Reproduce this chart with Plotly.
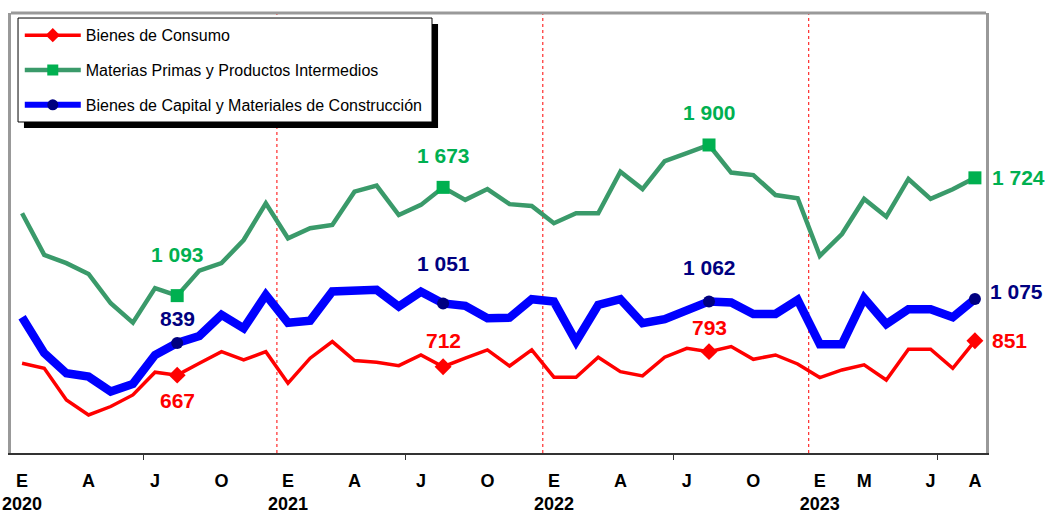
import plotly.graph_objects as go

# months Jan 2020 .. Aug 2023
months = [f"{y}-{m:02d}" for y in (2020, 2021, 2022, 2023) for m in range(1, 13)][:44]

consumo = [731, 704, 534, 454, 499, 561, 683, 667, 731, 793, 749, 793,
           624, 758, 847, 745, 736, 718, 775, 712, 758, 802, 716, 802,
           656, 656, 763, 686, 663, 763, 811, 793, 820, 752, 775, 727,
           654, 695, 722, 641, 806, 806, 704, 851]

materias = [1534, 1311, 1267, 1209, 1052, 948, 1133, 1093, 1227, 1267, 1391, 1588,
            1400, 1454, 1472, 1650, 1682, 1525, 1579, 1673, 1606, 1664, 1583, 1573,
            1481, 1534, 1534, 1757, 1664, 1814, 1856, 1900, 1752, 1739, 1632, 1615,
            1306, 1423, 1611, 1516, 1718, 1611, 1663, 1724]

capital = [977, 785, 677, 659, 579, 620, 775, 839, 877, 990, 918, 1097,
           948, 959, 1115, 1114, 1124, 1034, 1114, 1051, 1038, 972, 975, 1074,
           1061, 847, 1043, 1074, 945, 967, 1013, 1062, 1056, 995, 995, 1070,
           833, 833, 1079, 941, 1020, 1020, 977, 1075]

# labelled months (August of each year)
marked = ["2020-08", "2021-08", "2022-08", "2023-08"]

tick_months = ["2020-01", "2020-04", "2020-07", "2020-10",
               "2021-01", "2021-04", "2021-07", "2021-10",
               "2022-01", "2022-04", "2022-07", "2022-10",
               "2023-01", "2023-03", "2023-06", "2023-08"]
tick_text = ["E<br>2020", "A", "J", "O",
             "E<br>2021", "A", "J", "O",
             "E<br>2022", "A", "J", "O",
             "E<br>2023", "M", "J", "A"]

series = [
    # name, values, line colour, width, marker colour, symbol, label colour, label shifts (x, y)
    ("Bienes de Consumo", consumo, "#FF0000", 3.5, "#FF0000", "diamond", "#FF0000",
     [(0, -25), (0, 26), (0, 24), (15, 0)]),
    ("Materias Primas y Productos Intermedios", materias, "#3A9A6A", 4.5, "#00B050", "square", "#00B050",
     [(0, 41), (0, 32), (0, 32), (15, 0)]),
    ("Bienes de Capital y Materiales de Construcción", capital, "#0000FF", 8.5, "#000080", "circle", "#000080",
     [(0, 25), (0, 40), (0, 34), (13, 7)]),
]

fig = go.Figure()

for i, (name, vals, lcol, lw, mcol, sym, tcol, shifts) in enumerate(series):
    fig.add_trace(go.Scatter(x=months, y=vals, mode="lines", showlegend=False,
                             line=dict(color=lcol, width=lw), hoverinfo="skip"))
    mvals = [vals[months.index(m)] for m in marked]
    fig.add_trace(go.Scatter(x=marked, y=mvals, mode="markers", showlegend=False,
                             marker=dict(color=mcol, symbol=sym, size=13 if sym != "circle" else 12),
                             hoverinfo="skip"))
    # legend-only entry
    fig.add_trace(go.Scatter(x=[None], y=[None], mode="lines+markers", name=name,
                             legendgroup=f"g{i}",
                             line=dict(color=lcol, width=min(lw, 6)),
                             marker=dict(color=mcol, symbol=sym, size=11)))
    for (m, v), (dx, dy) in zip(zip(marked, mvals), shifts):
        fig.add_annotation(x=m, y=v, text=f"{v:,}".replace(",", " "), showarrow=False,
                           xanchor="left" if dx else "center", xshift=dx, yshift=dy,
                           font=dict(family="Liberation Sans, Arial", size=21, color=tcol, weight="bold"))

# year separators
for k in (1, 2, 3):
    fig.add_vline(x=12 * k - 0.5, line=dict(color="#FF0000", width=1, dash="dot"), layer="below")

# legend box with shadow
fig.add_shape(type="rect", xref="paper", yref="paper", x0=0.0133, x1=0.438, y0=0.7386, y1=0.975,
              fillcolor="black", line=dict(width=0))
fig.add_shape(type="rect", xref="paper", yref="paper", x0=0.0072, x1=0.4318, y0=0.7523, y1=0.9886,
              fillcolor="white", line=dict(color="black", width=1))
# top frame line
fig.add_shape(type="line", xref="paper", yref="paper", x0=0, x1=1, y0=1, y1=1,
              line=dict(color="#999999", width=3))

fig.update_layout(
    width=1049, height=514, autosize=False,
    margin=dict(l=11, r=63, t=13, b=61),
    paper_bgcolor="white", plot_bgcolor="white",
    legend=dict(x=0.009, y=0.988, xanchor="left", yanchor="top",
                bgcolor="rgba(0,0,0,0)", borderwidth=0, itemwidth=56, tracegroupgap=11,
                font=dict(family="Liberation Sans, Arial", size=16, color="black")),
    showlegend=True,
)

fig.update_xaxes(type="category", range=[-0.5, 43.5], tickvals=tick_months, ticktext=tick_text,
                 ticks="", showgrid=False, zeroline=False, automargin=False,
                 showline=True, linecolor="#333333", linewidth=2,
                 ticklabelstandoff=10,
                 tickfont=dict(family="Liberation Sans Narrow, Arial Narrow, Liberation Sans",
                               size=18, color="black", weight="bold"),
                 minor=dict(tickmode="array", tickvals=[5.5, 17.3, 29.4, 41.3],
                            ticks="outside", ticklen=5, tickcolor="#333333", tickwidth=1))
fig.update_yaxes(range=[250, 2607], showticklabels=False, ticks="", showgrid=False, zeroline=False,
                 automargin=False,
                 showline=True, linecolor="#999999", linewidth=3, mirror=True)

# page body margin off so the figure sits at the window's top-left corner
fig.write_html("out.html", config={"displayModeBar": False},
               post_script="document.body.style.margin='0';")
